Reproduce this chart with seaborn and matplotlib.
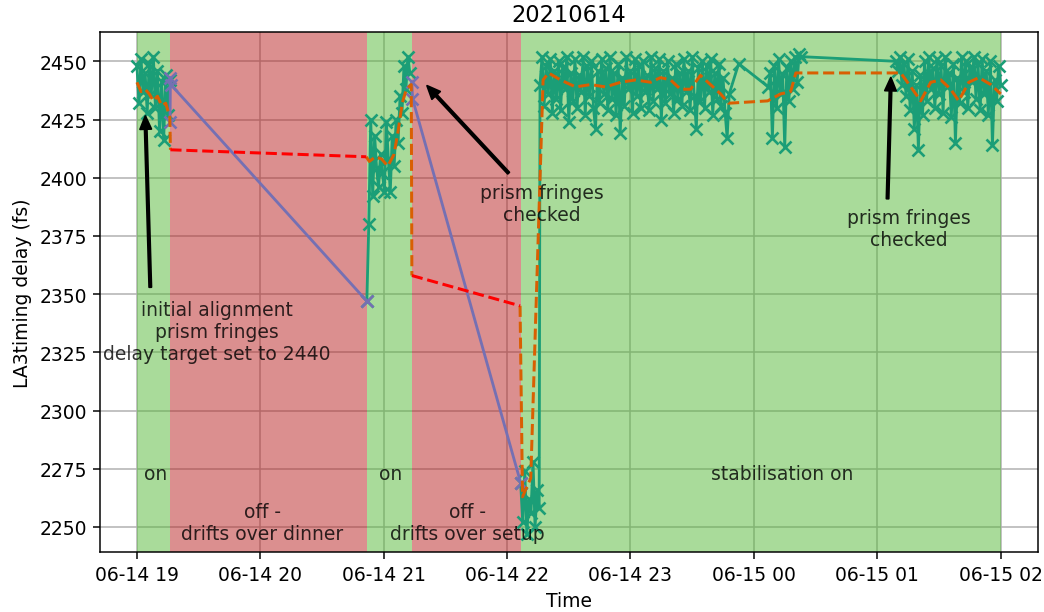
import pandas as pd
import matplotlib
matplotlib.use("Agg")
import matplotlib.pyplot as plt
import matplotlib.dates as mdates
import seaborn as sns

# --- colours (Dark2 like the original) ---
teal, orange, purple = sns.color_palette("Dark2")[0], sns.color_palette("Dark2")[1], sns.color_palette("Dark2")[2]

base = pd.Timestamp("2021-06-14 19:00")

# === stabilisation on/off periods (minutes after 19:00) ===
on_spans = [(0.0, 16.2), (111.8, 133.7), (187.0, 420.0)]
off_spans = [(16.2, 111.8), (133.7, 187.0)]

# === measured delay while stabilisation on (teal) ===
# segment A: 19:00 - 19:16, one reading per minute
seg_a_start = 0.0
seg_a_vals = [2448, 2432, 2451, 2437, 2445, 2428, 2449, 2436, 2452, 2430,
              2446, 2420, 2441, 2416, 2444, 2427, 2442]

# segment B: 20:52 - 21:13
seg_b_start = 111.8
seg_b_vals = [2347, 2380, 2425, 2392, 2418, 2404, 2396, 2410, 2402, 2394,
              2424, 2408, 2394, 2418, 2405, 2425, 2415, 2435, 2428, 2448,
              2438, 2452, 2445]

# segment C: 22:07 onwards
seg_c0_start = 186.6
seg_c0_vals = [2269, 2252, 2274, 2247, 2262, 2256, 2278, 2250, 2266, 2258]

seg_c1_start = 196.0
seg_c1_vals = [2440, 2452, 2431, 2448, 2436, 2451, 2428, 2446, 2434, 2450,
               2429, 2447, 2438, 2452, 2424, 2445, 2433, 2451, 2430, 2444,
               2437, 2452, 2427, 2448, 2435, 2450, 2430, 2421, 2446, 2432,
               2451, 2436, 2447, 2429, 2452, 2434, 2445, 2427, 2449, 2419,
               2443, 2431, 2452, 2438, 2446, 2428, 2451, 2435, 2448, 2430,
               2450, 2437, 2444, 2429, 2452, 2433, 2447, 2438, 2451, 2425,
               2446, 2432, 2450, 2436, 2443, 2428, 2449, 2434, 2445, 2431,
               2451, 2437, 2446, 2429, 2452, 2435, 2421, 2447, 2433, 2450,
               2430, 2448, 2437, 2451, 2427, 2445, 2434, 2449, 2431, 2443,
               2428, 2417, 2436]

single_time = 292.6
single_val = 2449

seg_c2_start = 307.0
seg_c2_vals = [2439, 2445, 2417, 2448, 2430, 2451, 2436, 2444, 2413, 2447,
               2433, 2450, 2438, 2452, 2441, 2453, 2452]

seg_c3_start = 369.0
seg_c3_vals = [2450, 2446, 2452, 2440, 2449, 2435, 2451, 2429, 2446, 2421,
               2440, 2412, 2444, 2427, 2450, 2433, 2452, 2438, 2447, 2430,
               2451, 2436, 2448, 2428, 2452, 2439, 2445, 2426, 2449, 2415,
               2443, 2432, 2452, 2437, 2450, 2430, 2447, 2441, 2452, 2434,
               2449, 2429, 2451, 2436, 2446, 2427, 2450, 2414, 2442, 2433,
               2448, 2440]

# === readings while stabilisation off (purple) ===
off1_t = [16.1, 16.3, 16.5, 111.8]
off1_v = [2424, 2443, 2440, 2347]
off2_t = [133.7, 134.0, 186.6]
off2_v = [2441, 2434, 2269]

# === smoothed delay, on periods (orange dashed) ===
mean_a_t = [0, 2, 4, 6, 8, 10, 12, 14, 16, 16.3]
mean_a_v = [2441, 2437, 2438, 2436, 2433, 2435, 2431, 2432, 2426, 2412]
mean_b_t = [111.5, 113, 116, 119, 122, 125, 127, 129, 131, 133.4, 133.7]
mean_b_v = [2409, 2407, 2409, 2408, 2405, 2410, 2420, 2432, 2438, 2440, 2358]
mean_c_t = [186.3, 187.5, 191.5, 197.5, 200.1, 206, 213.3, 220.6, 227.9, 235.2,
            242.5, 249.8, 254.6, 259.5, 264.3, 269.2, 274, 278.9, 283.8, 287.7,
            306.7, 313, 317.9, 320.4, 371.4, 376.3, 381.1, 386, 390.9, 395.7,
            399.6, 404.5, 409.4, 415.2, 420]
mean_c_v = [2345, 2263, 2271, 2442, 2445, 2442, 2439, 2440, 2439, 2441,
            2442, 2441, 2443, 2442, 2438, 2438, 2444, 2440, 2436, 2432,
            2433, 2436, 2437, 2445, 2445, 2439, 2433, 2441, 2442, 2438,
            2433, 2441, 2443, 2440, 2436]

# === smoothed delay, off periods (red dashed) ===
mean_off1_t = [16.3, 111.5]
mean_off1_v = [2412, 2409]
mean_off2_t = [133.7, 186.3]
mean_off2_v = [2358, 2345]


def to_time(minutes):
    return base + pd.to_timedelta(minutes, unit="min")


def series(start, vals, step=1.0):
    t = [start + i * step for i in range(len(vals))]
    return t, vals


fig, ax = plt.subplots(figsize=(7.74, 4.54), dpi=135)
fig.subplots_adjust(left=0.0958, right=0.9933, top=0.946, bottom=0.098)

ax.set_axisbelow(True)
ax.grid(True)

for a, b in on_spans:
    ax.axvspan(to_time(a), to_time(b), color="#55b837", alpha=0.5, lw=0, zorder=1.5)
for a, b in off_spans:
    ax.axvspan(to_time(a), to_time(b), color="#b82020", alpha=0.5, lw=0, zorder=1.5)


def draw(t, v, **kw):
    df = pd.DataFrame({"Time": to_time(t), "delay": v})
    sns.lineplot(data=df, x="Time", y="delay", ax=ax, estimator=None,
                 sort=False, **kw)


meas = dict(color=teal, marker="x", markeredgecolor=teal, mew=1.4, ms=6, lw=1.5, zorder=3)
draw(*series(seg_a_start, seg_a_vals), **meas)
draw(*series(seg_b_start, seg_b_vals, 0.95), **meas)
t0, v0 = series(seg_c0_start, seg_c0_vals)
t1, v1 = series(seg_c1_start, seg_c1_vals)
t2, v2 = series(seg_c2_start, seg_c2_vals)
t3, v3 = series(seg_c3_start, seg_c3_vals)
draw(t0 + t1 + [single_time] + t2 + t3, v0 + v1 + [single_val] + v2 + v3, **meas)

offk = dict(color=purple, marker="x", markeredgecolor=purple, mew=1.4, ms=6, lw=1.5, zorder=3.1)
draw(off1_t, off1_v, **offk)
draw(off2_t, off2_v, **offk)

for t, v in [(mean_a_t, mean_a_v), (mean_b_t, mean_b_v), (mean_c_t, mean_c_v)]:
    draw(t, v, color=orange, linestyle="--", lw=1.6, zorder=3.2)
for t, v in [(mean_off1_t, mean_off1_v), (mean_off2_t, mean_off2_v)]:
    draw(t, v, color="red", linestyle="--", lw=1.6, zorder=3.2)

# annotations
arrow = dict(facecolor="black", edgecolor="black", width=1.2, headwidth=6, headlength=7, shrink=0)
ax.annotate("", xy=(to_time(4.1), 2426.5), xytext=(to_time(6.5), 2353), arrowprops=arrow, zorder=4)
ax.annotate("", xy=(to_time(141.1), 2439.5), xytext=(to_time(180.7), 2402), arrowprops=arrow, zorder=4)
ax.annotate("", xy=(to_time(366.6), 2443), xytext=(to_time(365.0), 2391), arrowprops=arrow, zorder=4)

txt = dict(ha="center", va="center", zorder=4, color="black", alpha=0.8)
ax.text(to_time(38.7), 2334, "initial alignment\nprism fringes\ndelay target set to 2440", **txt)
ax.text(to_time(196.9), 2389, "prism fringes\nchecked", **txt)
ax.text(to_time(375.4), 2378, "prism fringes\nchecked", **txt)
ax.text(to_time(9.0), 2273, "on", **txt)
ax.text(to_time(61.0), 2252, "off -\ndrifts over dinner", **txt)
ax.text(to_time(123.3), 2273, "on", **txt)
ax.text(to_time(160.7), 2252, "off -\ndrifts over setup", **txt)
ax.text(to_time(314.0), 2273, "stabilisation on", **txt)

ax.set_xlim(to_time(-17.9), to_time(438.1))
ax.set_ylim(2239.3, 2462.5)
ax.xaxis.set_major_locator(mdates.HourLocator())
ax.xaxis.set_major_formatter(mdates.DateFormatter("%m-%d %H"))
ax.set_title("20210614")
ax.set_xlabel("Time")
ax.set_ylabel("LA3timing delay (fs)")

fig.savefig("out.png", dpi=135)
